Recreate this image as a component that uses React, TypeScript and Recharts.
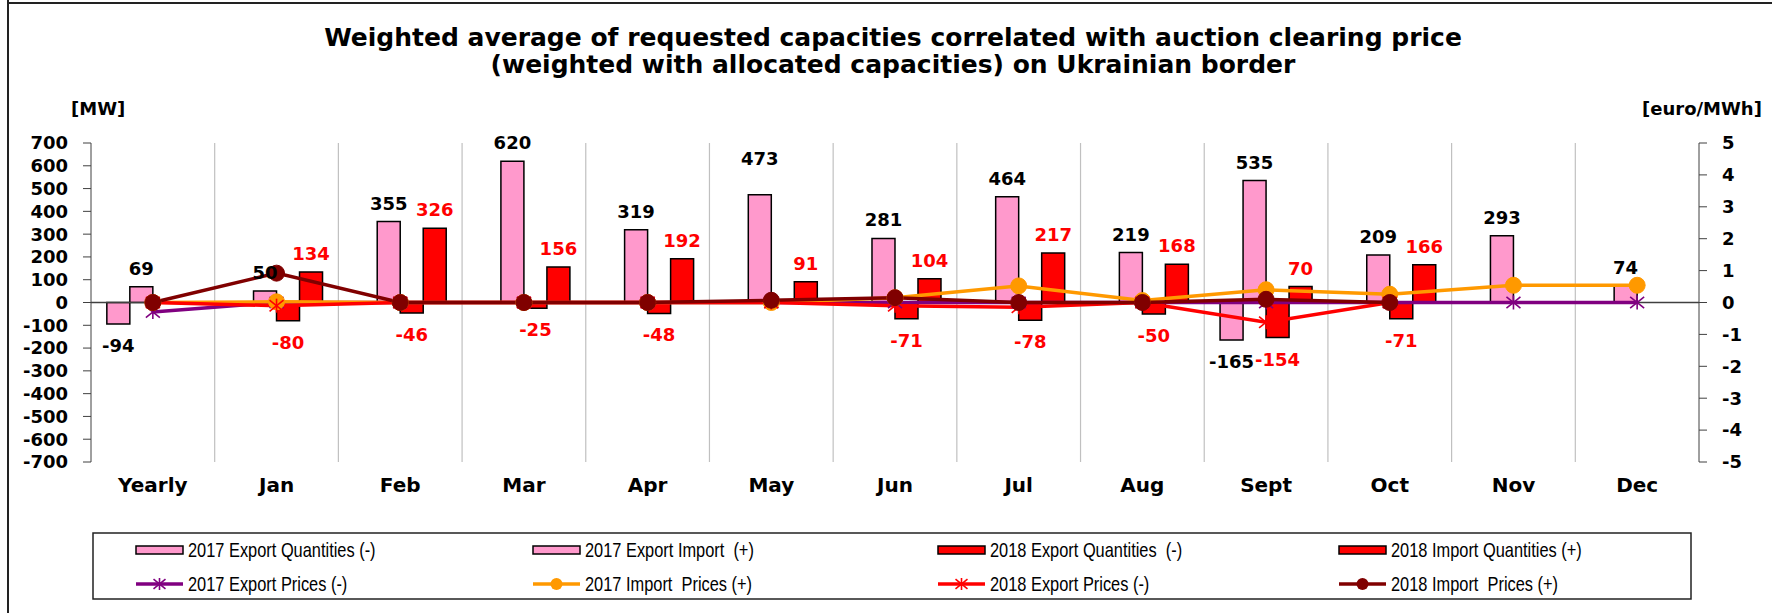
import { CSSProperties } from "react";
import { Bar, CartesianGrid, ComposedChart, LabelList, Line, ReferenceLine, XAxis, YAxis } from "recharts";

const months = ["Yearly", "Jan", "Feb", "Mar", "Apr", "May", "Jun", "Jul", "Aug", "Sept", "Oct", "Nov", "Dec"];

// [MW]
const export2017Qty = [-94, null, null, null, null, null, null, null, null, -165, null, null, null];
const import2017Qty = [69, 50, 355, 620, 319, 473, 281, 464, 219, 535, 209, 293, 74];
const export2018Qty = [null, -80, -46, -25, -48, null, -71, -78, -50, -154, -71, null, null];
const import2018Qty = [null, 134, 326, 156, 192, 91, 104, 217, 168, 70, 166, null, null];

// [euro/MWh]
const export2017Price = [-0.3, 0, 0, 0, 0, 0, 0, 0, 0, 0, 0, 0, 0];
const import2017Price = [0, 0.02, 0, 0, 0, 0, 0.15, 0.52, 0.06, 0.4, 0.26, 0.54, 0.54];
const export2018Price = [0, -0.1, 0, 0, 0, 0, -0.1, -0.15, 0, -0.62, 0, null, null];
const import2018Price = [0, 0.92, 0, 0, 0, 0.07, 0.15, 0, 0, 0.1, 0, null, null];

const mwTicks = [-700, -600, -500, -400, -300, -200, -100, 0, 100, 200, 300, 400, 500, 600, 700];
const priceTicks = [-5, -4, -3, -2, -1, 0, 1, 2, 3, 4, 5];

const titleLines = [
    "Weighted average of requested capacities correlated with auction clearing price",
    "(weighted with allocated capacities) on Ukrainian border",
];

const PINK = "#FF99CC";
const RED = "#FF0000";
const PURPLE = "#800080";
const ORANGE = "#FF9900";
const DARKRED = "#800000";

const legendItems = [
    {name: "2017 Export Quantities (-)", kind: "bar", color: PINK},
    {name: "2017 Export Import  (+)", kind: "bar", color: PINK},
    {name: "2018 Export Quantities  (-)", kind: "bar", color: RED},
    {name: "2018 Import Quantities (+)", kind: "bar", color: RED},
    {name: "2017 Export Prices (-)", kind: "star", color: PURPLE},
    {name: "2017 Import  Prices (+)", kind: "circle", color: ORANGE},
    {name: "2018 Export Prices (-)", kind: "star", color: RED},
    {name: "2018 Import  Prices (+)", kind: "circle", color: DARKRED},
];

const data = months.map((m, i) => ({
    month: m,
    e17q: export2017Qty[i],
    i17q: import2017Qty[i],
    e18q: export2018Qty[i],
    i18q: import2018Qty[i],
    e17p: export2017Price[i],
    i17p: import2017Price[i],
    e18p: export2018Price[i],
    i18p: import2018Price[i],
}));

const W = 1772;
const H = 613;
const PLOT_LEFT = 91;
const PLOT_RIGHT = 1699;
const PLOT_TOP = 143;
const PLOT_BOTTOM = 462;
const band = (PLOT_RIGHT - PLOT_LEFT) / months.length;
const gridX = months.slice(1).map((_, i) => PLOT_LEFT + band * (i + 1));

const boldFont = {fontFamily: "'DejaVu Sans', sans-serif", fontWeight: "bold"};

// the May label of 2017 sits higher in the original
const raised: { [key: string]: number } = {May: 18};

const barLabel = (color: string) => (props: any) => {
    const {x, y, width, height, value, index} = props;
    if (value == null || value === 0) return null;
    const cx = Number(x) + Number(width) / 2;
    const top = Math.min(Number(y), Number(y) + Number(height));
    const bottom = Math.max(Number(y), Number(y) + Number(height));
    const lift = color === "#000" && value > 0 ? raised[months[index]] || 0 : 0;
    const ty = value > 0 ? top - 12 - lift : bottom + 28;
    return (
        <text x={cx} y={ty} textAnchor="middle" fill={color} fontSize={18} style={boldFont}>
            {value}
        </text>
    );
};

const Star = ({cx, cy, color, size = 7}: { cx: number, cy: number, color: string, size?: number }) => (
    <g stroke={color} strokeWidth={1.6}>
        <line x1={cx - size} y1={cy - size * 0.8} x2={cx + size} y2={cy + size * 0.8}/>
        <line x1={cx - size} y1={cy + size * 0.8} x2={cx + size} y2={cy - size * 0.8}/>
        <line x1={cx} y1={cy - size} x2={cx} y2={cy + size}/>
    </g>
);

const starDot = (color: string) => (props: any) => {
    const {cx, cy, value, index} = props;
    if (value == null || cx == null || cy == null) return <g key={`s${index}`}/>;
    return <g key={`s${index}`}><Star cx={cx} cy={cy} color={color}/></g>;
};

const circleDot = (color: string) => (props: any) => {
    const {cx, cy, value, index} = props;
    if (value == null || cx == null || cy == null) return <g key={`c${index}`}/>;
    return <circle key={`c${index}`} cx={cx} cy={cy} r={8} fill={color} stroke={color}/>;
};

const tickStyle = {fill: "#000", fontSize: 18, ...boldFont};

const Overlay = () => {
    const colX = [136, 533, 938, 1339];
    const rowY = [550, 584];
    return (
        <svg width={W} height={H} style={{position: "absolute", left: 0, top: 0, pointerEvents: "none"}}>
            <line x1={8} y1={0} x2={8} y2={H} stroke="#222" strokeWidth={2}/>
            <line x1={8} y1={3} x2={W} y2={3} stroke="#222" strokeWidth={2}/>
            {titleLines.map((t, i) => (
                <text key={t} x={893} y={46 + i * 27} textAnchor="middle" fontSize={25} fill="#000" style={boldFont}>
                    {t}
                </text>
            ))}
            <text x={71} y={115} fontSize={18} fill="#000" style={boldFont}>[MW]</text>
            <text x={1642} y={115} fontSize={18} fill="#000" style={boldFont}>[euro/MWh]</text>
            <rect x={93} y={533} width={1598} height={66} fill="#fff" stroke="#222" strokeWidth={1.5}/>
            {legendItems.map((it, i) => {
                const x = colX[i % 4];
                const y = rowY[Math.floor(i / 4)];
                return (
                    <g key={it.name}>
                        {it.kind === "bar" ? (
                            <rect x={x} y={y - 4} width={47} height={8} fill={it.color} stroke="#000" strokeWidth={1.5}/>
                        ) : (
                            <g>
                                <line x1={x} y1={y} x2={x + 47} y2={y} stroke={it.color} strokeWidth={3.5}/>
                                {it.kind === "star" ? (
                                    <Star cx={x + 23.5} cy={y} color={it.color} size={6}/>
                                ) : (
                                    <circle cx={x + 23.5} cy={y} r={6} fill={it.color}/>
                                )}
                            </g>
                        )}
                        <text transform={`translate(${x + 52},${y + 7}) scale(0.82,1)`} fontSize={20} fill="#000"
                              style={{fontFamily: "'Liberation Sans', Arial, sans-serif", whiteSpace: "pre"}}>
                            {it.name}
                        </text>
                    </g>
                );
            })}
        </svg>
    );
};

const App = () => {
    const wrap: CSSProperties = {position: "absolute", left: 0, top: 0, width: W, height: H, background: "#fff"};
    return (
        <div style={wrap}>
            <ComposedChart width={W} height={H} data={data}
                           margin={{top: PLOT_TOP, right: 0, bottom: 0, left: 0}}
                           barCategoryGap="12.8%" barGap={0}>
                <CartesianGrid horizontal={false} vertical verticalPoints={gridX} stroke="#c0c0c0" strokeWidth={1.2}/>
                <XAxis dataKey="month" xAxisId={0} interval={0} axisLine={false} tickLine={false}
                       tickSize={6} tickMargin={10} height={H - PLOT_BOTTOM}
                       tick={{fill: "#000", fontSize: 20, ...boldFont}}/>
                <YAxis yAxisId="left" orientation="left" width={PLOT_LEFT} domain={[-700, 700]} ticks={mwTicks}
                       interval={0} allowDataOverflow stroke="#404040" tickSize={8} tickMargin={15}
                       tick={tickStyle}/>
                <YAxis yAxisId="right" orientation="right" width={W - PLOT_RIGHT} domain={[-5, 5]} ticks={priceTicks}
                       interval={0} allowDataOverflow stroke="#404040" tickSize={8} tickMargin={15}
                       tick={tickStyle}/>
                <Bar yAxisId="left" dataKey="e17q" fill={PINK} stroke="#000" strokeWidth={1.5} isAnimationActive={false}>
                    <LabelList dataKey="e17q" content={barLabel("#000")}/>
                </Bar>
                <Bar yAxisId="left" dataKey="i17q" fill={PINK} stroke="#000" strokeWidth={1.5} isAnimationActive={false}>
                    <LabelList dataKey="i17q" content={barLabel("#000")}/>
                </Bar>
                <Bar yAxisId="left" dataKey="e18q" fill={RED} stroke="#000" strokeWidth={1.5} isAnimationActive={false}>
                    <LabelList dataKey="e18q" content={barLabel(RED)}/>
                </Bar>
                <Bar yAxisId="left" dataKey="i18q" fill={RED} stroke="#000" strokeWidth={1.5} isAnimationActive={false}>
                    <LabelList dataKey="i18q" content={barLabel(RED)}/>
                </Bar>
                <ReferenceLine yAxisId="left" y={0} stroke="#404040" strokeWidth={1.5}/>
                <Line yAxisId="right" type="linear" dataKey="e17p" stroke={PURPLE} strokeWidth={3.5}
                      dot={starDot(PURPLE)} activeDot={false} isAnimationActive={false}/>
                <Line yAxisId="right" type="linear" dataKey="i17p" stroke={ORANGE} strokeWidth={3.5}
                      dot={circleDot(ORANGE)} activeDot={false} isAnimationActive={false}/>
                <Line yAxisId="right" type="linear" dataKey="e18p" stroke={RED} strokeWidth={3.5}
                      dot={starDot(RED)} activeDot={false} isAnimationActive={false}/>
                <Line yAxisId="right" type="linear" dataKey="i18p" stroke={DARKRED} strokeWidth={3.5}
                      dot={circleDot(DARKRED)} activeDot={false} isAnimationActive={false}/>
            </ComposedChart>
            <Overlay/>
        </div>
    );
};

export default App;
